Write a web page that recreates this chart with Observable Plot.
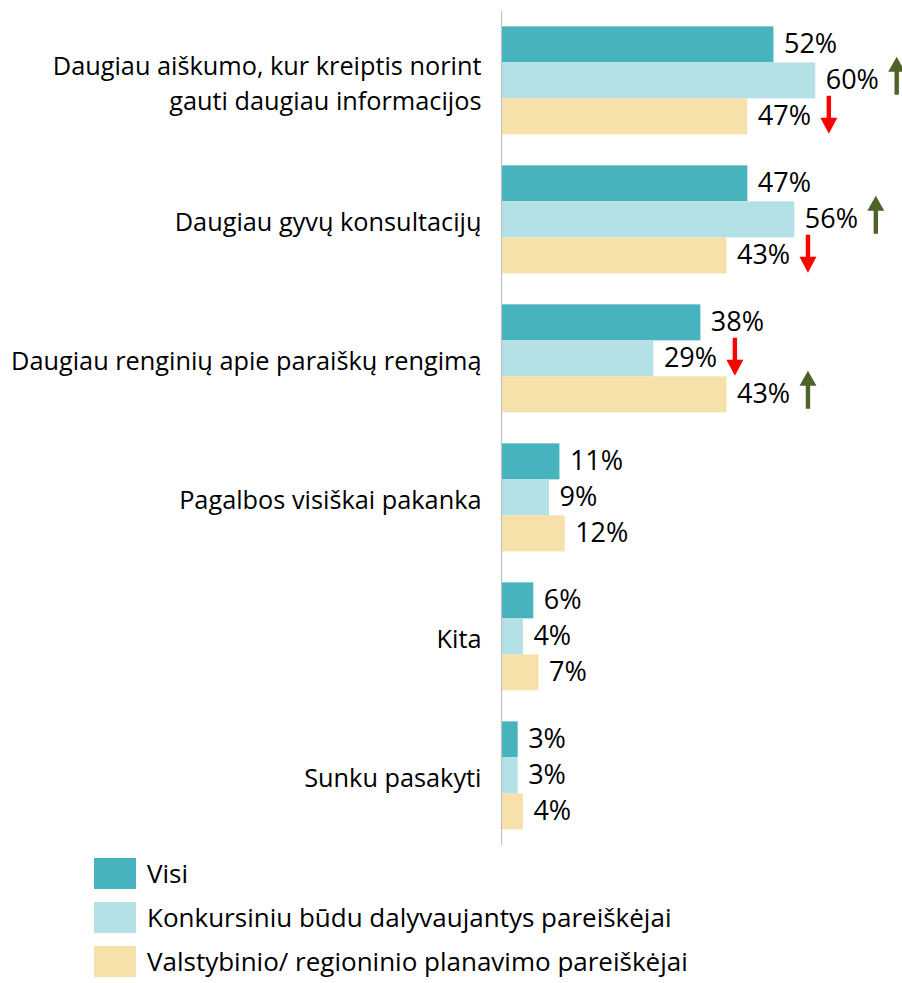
<!DOCTYPE html>
<html>
<head>
<meta charset="utf-8">
<script src="https://cdn.jsdelivr.net/npm/d3@7"></script>
<script src="https://cdn.jsdelivr.net/npm/@observablehq/plot@0.6"></script>
<style>
  html, body { margin: 0; padding: 0; background: #fff; }
  body { font-family: "Open Sans", sans-serif; color: #000; width: 902px; }
  #chart svg { display: block; }
  .legend { margin-top: 8px; }
  .legend .row { display: flex; align-items: center; height: 31px; margin-bottom: 13px; margin-left: 94px; font-size: 26px; line-height: 31px; white-space: nowrap; }
  .legend .sw { width: 42px; height: 31px; margin-right: 11px; flex: none; }
</style>
</head>
<body>
<div id="chart"></div>
<div class="legend" id="legend"></div>
<script>
const categories = [
  "Daugiau aiškumo, kur kreiptis norint\ngauti daugiau informacijos",
  "Daugiau gyvų konsultacijų",
  "Daugiau renginių apie paraiškų rengimą",
  "Pagalbos visiškai pakanka",
  "Kita",
  "Sunku pasakyti"
];
const seriesNames = [
  "Visi",
  "Konkursiniu būdu dalyvaujantys pareiškėjai",
  "Valstybinio/ regioninio planavimo pareiškėjai"
];
const colors = ["#46b3be", "#b4e1e5", "#f5e1a9"];
const visi = [52, 47, 38, 11, 6, 3];
const konkursiniu = [60, 56, 29, 9, 4, 3];
const valstybinio = [47, 43, 43, 12, 7, 4];
// significance markers: "up", "down" or null
const konkursiniuArrows = ["up", "up", "down", null, null, null];
const valstybinioArrows = ["down", "down", "up", null, null, null];

const seriesValues = [visi, konkursiniu, valstybinio];
const seriesArrows = [categories.map(() => null), konkursiniuArrows, valstybinioArrows];

const rows = [];
categories.forEach((cat, i) => {
  seriesNames.forEach((s, j) => {
    rows.push({cat, series: s, value: seriesValues[j][i], arrow: seriesArrows[j][i]});
  });
});

const upArrow = {
  draw(ctx) {
    ctx.moveTo(0, -19); ctx.lineTo(8.5, -4); ctx.lineTo(2.2, -4); ctx.lineTo(2.2, 19);
    ctx.lineTo(-2.2, 19); ctx.lineTo(-2.2, -4); ctx.lineTo(-8.5, -4); ctx.closePath();
  }
};
const downArrow = {
  draw(ctx) {
    ctx.moveTo(0, 19); ctx.lineTo(8.5, 3); ctx.lineTo(2.2, 3); ctx.lineTo(2.2, -19);
    ctx.lineTo(-2.2, -19); ctx.lineTo(-2.2, 3); ctx.lineTo(-8.5, 3); ctx.closePath();
  }
};

const chart = Plot.plot({
  width: 902,
  height: 850,
  marginLeft: 502,
  marginRight: 8.5,
  marginTop: 8.65,
  marginBottom: 3,
  style: {fontFamily: "Open Sans, sans-serif", color: "#000", background: "#fff"},
  x: {domain: [0, 75], axis: null},
  y: {domain: seriesNames, axis: null, paddingInner: 0, paddingOuter: 0},
  fy: {domain: categories, axis: null, paddingInner: 0.215, paddingOuter: 0.1075},
  color: {domain: seriesNames, range: colors},
  facet: {data: rows, y: "cat"},
  marks: [
    Plot.barX(rows, {x: "value", y: "series", fill: "series"}),
    Plot.ruleX([0], {stroke: "#c0c0c0", strokeWidth: 1.2, dx: -1, insetTop: -15, insetBottom: -15}),
    Plot.text(rows, {x: "value", y: "series", text: d => d.value + "%", textAnchor: "start", dx: 10, fontSize: 27, fill: "#000"}),
    Plot.text(rows, {filter: d => d.series === seriesNames[1], frameAnchor: "left", text: d => d.cat, textAnchor: "end", dx: -21, fontSize: 25.3, lineHeight: 1.38, fill: "#000"}),
    Plot.dot(rows, {filter: d => d.arrow === "up", x: "value", y: "series", dx: 81, dy: -5, symbol: upArrow, fill: "#4f6228", stroke: null}),
    Plot.dot(rows, {filter: d => d.arrow === "down", x: "value", y: "series", dx: 81, dy: -2, symbol: downArrow, fill: "#ff0000", stroke: null})
  ]
});
document.getElementById("chart").appendChild(chart);

const legend = document.getElementById("legend");
seriesNames.forEach((s, i) => {
  const row = document.createElement("div");
  row.className = "row";
  const sw = document.createElement("span");
  sw.className = "sw";
  sw.style.background = colors[i];
  const t = document.createElement("span");
  t.textContent = s;
  row.appendChild(sw);
  row.appendChild(t);
  legend.appendChild(row);
});
</script>
</body>
</html>
